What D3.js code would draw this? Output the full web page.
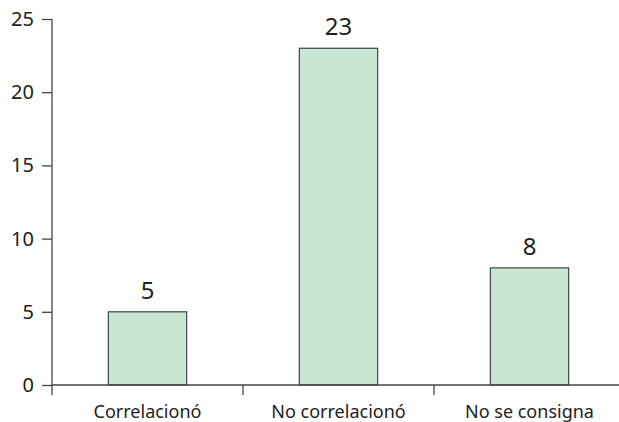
<!DOCTYPE html>
<html lang="es">
<head>
<meta charset="UTF-8">
<title>Correlación</title>
<script src="https://cdnjs.cloudflare.com/ajax/libs/d3/7.8.5/d3.min.js"></script>
<style>
  body { margin: 0; background: #fff; }
  svg text { font-family: "Noto Sans", sans-serif; fill: #222; }
</style>
</head>
<body>
<svg width="619" height="422"></svg>
<script>
const categories = ["Correlacionó", "No correlacionó", "No se consigna"];
const values = [5, 23, 8];
const yTicks = [0, 5, 10, 15, 20, 25];

const svg = d3.select("svg");
const margin = { left: 52, top: 19, bottom: 385, right: 625 };

const x = d3.scaleBand()
    .domain(categories)
    .range([margin.left, margin.right])
    .paddingInner(0.59)
    .paddingOuter(0.295);

const y = d3.scaleLinear()
    .domain([0, 25])
    .range([margin.bottom, margin.top]);

// bars
svg.append("g")
    .selectAll("rect")
    .data(values)
    .enter()
    .append("rect")
    .attr("x", (d, i) => x(categories[i]))
    .attr("y", d => y(d))
    .attr("width", x.bandwidth())
    .attr("height", d => y(0) - y(d))
    .attr("fill", "#c8e6d4")
    .attr("stroke", "#444")
    .attr("stroke-width", 1.2);

// value labels
svg.append("g")
    .selectAll("text")
    .data(values)
    .enter()
    .append("text")
    .attr("x", (d, i) => x(categories[i]) + x.bandwidth() / 2)
    .attr("y", d => y(d) - 13)
    .attr("text-anchor", "middle")
    .style("font-size", "24px")
    .text(d => d);

// y axis
const yAxis = svg.append("g")
    .attr("transform", `translate(${margin.left},0)`)
    .call(d3.axisLeft(y).tickValues(yTicks).tickSize(10).tickPadding(8).tickSizeOuter(0));
yAxis.select(".domain").remove();
yAxis.append("line")
    .attr("x1", 0).attr("x2", 0)
    .attr("y1", y(25)).attr("y2", y(0) + 10)
    .attr("stroke", "#444").attr("stroke-width", 1.3);
yAxis.selectAll(".tick line").attr("stroke", "#444").attr("stroke-width", 1.3);
yAxis.selectAll(".tick text").style("font-size", "20px").attr("fill", "#222");

// x axis with ticks at band boundaries
const step = x.step();
const bounds = d3.range(categories.length).map(i => margin.left + i * step);
const xg = svg.append("g");
xg.append("line")
    .attr("x1", margin.left).attr("x2", 619)
    .attr("y1", y(0)).attr("y2", y(0))
    .attr("stroke", "#444").attr("stroke-width", 1.3);
xg.selectAll("line.tk")
    .data(bounds.slice(1))
    .enter()
    .append("line")
    .attr("class", "tk")
    .attr("x1", d => d).attr("x2", d => d)
    .attr("y1", y(0)).attr("y2", y(0) + 10)
    .attr("stroke", "#444").attr("stroke-width", 1.3);
xg.selectAll("text")
    .data(categories)
    .enter()
    .append("text")
    .attr("x", d => x(d) + x.bandwidth() / 2)
    .attr("y", 418)
    .attr("text-anchor", "middle")
    .style("font-size", "18px")
    .text(d => d);
</script>
</body>
</html>
